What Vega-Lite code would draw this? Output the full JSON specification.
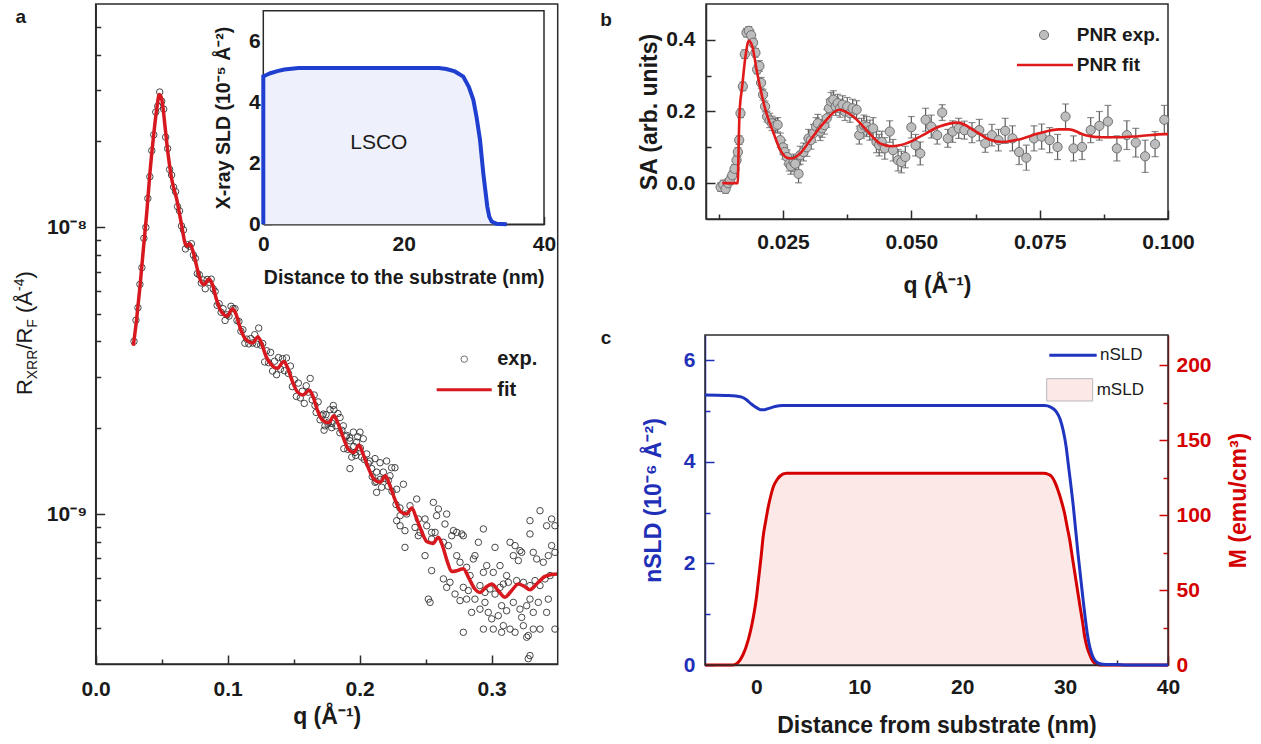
{
  "$schema": "https://vega.github.io/schema/vega-lite/v6.json",
  "width": 1261,
  "height": 744,
  "autosize": {"type": "none"},
  "padding": 0,
  "background": "white",
  "config": {
    "view": {"stroke": null},
    "font": "Liberation Sans",
    "axis": {"grid": false, "zindex": 1, "labelFont": "Liberation Sans", "labelFontSize": 21, "labelFontWeight": "bold", "labelColor": "#1a1a1a", "titleFont": "Liberation Sans", "titleFontSize": 23, "titleFontWeight": "bold", "titleColor": "#1a1a1a", "domainColor": "#2b2b2b", "domainWidth": 1.5, "tickColor": "#2b2b2b", "tickWidth": 1.5, "labelFlush": false, "labelOverlap": false, "labelBound": false},
    "text": {"font": "Liberation Sans"}
  },
  "datasets": {
    "xrr_fit": [
      {"q":0.0285,"r":3.86e-9},{"q":0.031,"r":4.78e-9},{"q":0.0336,"r":6.24e-9},{"q":0.0361,"r":8.38e-9},{"q":0.0387,"r":1.125e-8},{"q":0.0411,"r":1.55e-8},{"q":0.0436,"r":2.03e-8},{"q":0.0462,"r":2.58e-8},{"q":0.0482,"r":2.9e-8},{"q":0.0495,"r":2.85e-8},{"q":0.0505,"r":2.72e-8},{"q":0.0525,"r":2.25e-8},{"q":0.055,"r":1.77e-8},{"q":0.0576,"r":1.47e-8},{"q":0.0614,"r":1.25e-8},{"q":0.0652,"r":1.01e-8},{"q":0.0677,"r":8.8e-9},{"q":0.0695,"r":8.6e-9},{"q":0.0712,"r":8.75e-9},{"q":0.0735,"r":8.3e-9},{"q":0.0765,"r":7.3e-9},{"q":0.079,"r":6.6e-9},{"q":0.082,"r":6.3e-9},{"q":0.0858,"r":6.6e-9},{"q":0.0885,"r":6.3e-9},{"q":0.0915,"r":5.6e-9},{"q":0.0955,"r":5.05e-9},{"q":0.0995,"r":4.9e-9},{"q":0.1038,"r":5.2e-9},{"q":0.1065,"r":4.95e-9},{"q":0.1095,"r":4.45e-9},{"q":0.114,"r":4.05e-9},{"q":0.119,"r":3.95e-9},{"q":0.1228,"r":4.15e-9},{"q":0.1255,"r":3.95e-9},{"q":0.129,"r":3.55e-9},{"q":0.1335,"r":3.3e-9},{"q":0.1375,"r":3.22e-9},{"q":0.1425,"r":3.4e-9},{"q":0.1452,"r":3.25e-9},{"q":0.149,"r":2.9e-9},{"q":0.153,"r":2.66e-9},{"q":0.157,"r":2.6e-9},{"q":0.1618,"r":2.7e-9},{"q":0.1645,"r":2.58e-9},{"q":0.168,"r":2.3e-9},{"q":0.172,"r":2.12e-9},{"q":0.1765,"r":2.08e-9},{"q":0.1805,"r":2.2e-9},{"q":0.1835,"r":2.07e-9},{"q":0.1875,"r":1.85e-9},{"q":0.1915,"r":1.68e-9},{"q":0.1955,"r":1.64e-9},{"q":0.1995,"r":1.74e-9},{"q":0.2025,"r":1.62e-9},{"q":0.2065,"r":1.45e-9},{"q":0.211,"r":1.32e-9},{"q":0.2155,"r":1.29e-9},{"q":0.2195,"r":1.36e-9},{"q":0.2225,"r":1.27e-9},{"q":0.2265,"r":1.13e-9},{"q":0.231,"r":1.02e-9},{"q":0.2355,"r":1.0e-9},{"q":0.2395,"r":1.05e-9},{"q":0.2425,"r":9.8e-10},{"q":0.2465,"r":8.8e-10},{"q":0.251,"r":8.0e-10},{"q":0.2555,"r":7.9e-10},{"q":0.2596,"r":8.3e-10},{"q":0.2625,"r":7.8e-10},{"q":0.2665,"r":6.8e-10},{"q":0.2697,"r":6.3e-10},{"q":0.274,"r":6.35e-10},{"q":0.2785,"r":6.45e-10},{"q":0.2825,"r":6.0e-10},{"q":0.287,"r":5.5e-10},{"q":0.2911,"r":5.33e-10},{"q":0.2955,"r":5.55e-10},{"q":0.3,"r":5.7e-10},{"q":0.305,"r":5.4e-10},{"q":0.3101,"r":5.13e-10},{"q":0.315,"r":5.4e-10},{"q":0.3202,"r":5.7e-10},{"q":0.3245,"r":5.6e-10},{"q":0.329,"r":5.45e-10},{"q":0.334,"r":5.7e-10},{"q":0.34,"r":6.05e-10},{"q":0.345,"r":6.15e-10},{"q":0.35,"r":6.18e-10}
    ],
    "xrr_exp": [
      {"q":0.029,"r":4.0e-9},{"q":0.0305,"r":4.74e-9},{"q":0.032,"r":5.24e-9},{"q":0.0335,"r":6.32e-9},{"q":0.035,"r":7.23e-9},{"q":0.0365,"r":9.15e-9},{"q":0.038,"r":9.98e-9},{"q":0.0395,"r":1.26e-8},{"q":0.041,"r":1.5e-8},{"q":0.0425,"r":1.85e-8},{"q":0.044,"r":2.1e-8},{"q":0.0455,"r":2.52e-8},{"q":0.047,"r":2.64e-8},{"q":0.0485,"r":2.96e-8},{"q":0.05,"r":2.75e-8},{"q":0.0515,"r":2.58e-8},{"q":0.053,"r":2.06e-8},{"q":0.0545,"r":1.88e-8},{"q":0.056,"r":1.59e-8},{"q":0.0575,"r":1.52e-8},{"q":0.059,"r":1.38e-8},{"q":0.0605,"r":1.33e-8},{"q":0.062,"r":1.18e-8},{"q":0.0635,"r":1.14e-8},{"q":0.065,"r":1.01e-8},{"q":0.0665,"r":9.78e-9},{"q":0.068,"r":8.4e-9},{"q":0.0695,"r":8.69e-9},{"q":0.071,"r":8.58e-9},{"q":0.0725,"r":8.76e-9},{"q":0.074,"r":8.0e-9},{"q":0.0755,"r":7.78e-9},{"q":0.077,"r":6.89e-9},{"q":0.0785,"r":6.83e-9},{"q":0.08,"r":6.39e-9},{"q":0.0815,"r":6.55e-9},{"q":0.083,"r":6.1e-9},{"q":0.0845,"r":6.57e-9},{"q":0.086,"r":6.42e-9},{"q":0.0875,"r":6.59e-9},{"q":0.089,"r":6.1e-9},{"q":0.0905,"r":5.97e-9},{"q":0.092,"r":5.34e-9},{"q":0.0935,"r":5.41e-9},{"q":0.095,"r":5.05e-9},{"q":0.0965,"r":5.2e-9},{"q":0.098,"r":4.73e-9},{"q":0.0995,"r":4.95e-9},{"q":0.101,"r":4.9e-9},{"q":0.1025,"r":5.3e-9},{"q":0.104,"r":5.2e-9},{"q":0.1055,"r":5.2e-9},{"q":0.107,"r":4.73e-9},{"q":0.1085,"r":4.69e-9},{"q":0.11,"r":4.34e-9},{"q":0.1115,"r":4.39e-9},{"q":0.113,"r":3.94e-9},{"q":0.1145,"r":4.07e-9},{"q":0.116,"r":3.92e-9},{"q":0.1175,"r":4.09e-9},{"q":0.119,"r":3.95e-9},{"q":0.1205,"r":4.22e-9},{"q":0.122,"r":3.91e-9},{"q":0.1235,"r":4.45e-9},{"q":0.125,"r":3.88e-9},{"q":0.1265,"r":3.93e-9},{"q":0.128,"r":3.39e-9},{"q":0.1295,"r":3.71e-9},{"q":0.131,"r":3.37e-9},{"q":0.1325,"r":3.66e-9},{"q":0.134,"r":3.15e-9},{"q":0.1355,"r":3.41e-9},{"q":0.137,"r":3.06e-9},{"q":0.1385,"r":3.51e-9},{"q":0.14,"r":3.2e-9},{"q":0.1415,"r":3.48e-9},{"q":0.143,"r":3.16e-9},{"q":0.1445,"r":3.5e-9},{"q":0.146,"r":3.09e-9},{"q":0.1475,"r":3.28e-9},{"q":0.149,"r":2.78e-9},{"q":0.1505,"r":2.94e-9},{"q":0.152,"r":2.57e-9},{"q":0.1535,"r":2.86e-9},{"q":0.155,"r":2.54e-9},{"q":0.1565,"r":2.68e-9},{"q":0.158,"r":2.43e-9},{"q":0.1595,"r":2.8e-9},{"q":0.161,"r":2.66e-9},{"q":0.1625,"r":2.97e-9},{"q":0.164,"r":2.5e-9},{"q":0.1655,"r":2.6e-9},{"q":0.167,"r":2.26e-9},{"q":0.1685,"r":2.46e-9},{"q":0.17,"r":2.13e-9},{"q":0.1715,"r":2.2e-9},{"q":0.173,"r":1.96e-9},{"q":0.1745,"r":2.22e-9},{"q":0.176,"r":2.06e-9},{"q":0.1775,"r":2.31e-9},{"q":0.179,"r":2.07e-9},{"q":0.1805,"r":2.31e-9},{"q":0.182,"r":2.03e-9},{"q":0.1835,"r":2.24e-9},{"q":0.185,"r":1.92e-9},{"q":0.1865,"r":1.96e-9},{"q":0.188,"r":1.69e-9},{"q":0.1895,"r":1.86e-9},{"q":0.191,"r":1.68e-9},{"q":0.1925,"r":1.84e-9},{"q":0.194,"r":1.58e-9},{"q":0.1955,"r":1.72e-9},{"q":0.197,"r":1.6e-9},{"q":0.1985,"r":1.86e-9},
      {"q":0.1661,"r":2.39e-9},{"q":0.1724,"r":2.23e-9},{"q":0.1762,"r":2.09e-9},{"q":0.18,"r":2.39e-9},{"q":0.1737,"r":2.03e-9},{"q":0.1788,"r":2.0e-9},{"q":0.1851,"r":2.17e-9},{"q":0.1876,"r":2.03e-9},{"q":0.1901,"r":1.88e-9},{"q":0.1926,"r":1.8e-9},{"q":0.1952,"r":1.93e-9},{"q":0.1977,"r":1.78e-9},{"q":0.2002,"r":1.93e-9},{"q":0.2027,"r":1.83e-9},{"q":0.1926,"r":1.44e-9},{"q":0.1964,"r":1.64e-9},{"q":0.2015,"r":1.58e-9},{"q":0.2053,"r":1.62e-9},{"q":0.2078,"r":1.53e-9},{"q":0.2116,"r":1.56e-9},{"q":0.2154,"r":1.51e-9},{"q":0.2204,"r":1.53e-9},{"q":0.2242,"r":1.45e-9},{"q":0.2091,"r":1.44e-9},{"q":0.2128,"r":1.4e-9},{"q":0.2179,"r":1.4e-9},{"q":0.2229,"r":1.36e-9},{"q":0.2267,"r":1.45e-9},{"q":0.2116,"r":1.29e-9},{"q":0.2128,"r":1.19e-9},{"q":0.2166,"r":1.24e-9},{"q":0.2217,"r":1.31e-9},{"q":0.228,"r":1.22e-9},{"q":0.2331,"r":1.27e-9},
      {"q":0.2005,"r":1.7e-9},{"q":0.2035,"r":1.55e-9},{"q":0.2065,"r":1.5e-9},{"q":0.2095,"r":1.35e-9},{"q":0.2125,"r":1.3e-9},{"q":0.2155,"r":1.32e-9},{"q":0.2185,"r":1.33e-9},{"q":0.2215,"r":1.25e-9},{"q":0.2245,"r":1.2e-9},{"q":0.2275,"r":1.08e-9},{"q":0.2305,"r":1.05e-9},
      {"q":0.2432,"r":1.128e-9},{"q":0.2558,"r":1.098e-9},{"q":0.2596,"r":1.041e-9},{"q":0.2381,"r":1.069e-9},{"q":0.2356,"r":1.0e-9},{"q":0.2306,"r":9.87e-10},{"q":0.2444,"r":9.61e-10},{"q":0.2495,"r":9.61e-10},{"q":0.2583,"r":9.87e-10},{"q":0.2659,"r":1.0e-9},{"q":0.2646,"r":9.23e-10},{"q":0.228,"r":9.48e-10},{"q":0.2306,"r":9.1e-10},{"q":0.2343,"r":8.75e-10},{"q":0.2419,"r":8.98e-10},{"q":0.2457,"r":8.63e-10},{"q":0.2508,"r":9.1e-10},{"q":0.2545,"r":8.63e-10},{"q":0.2571,"r":8.63e-10},{"q":0.271,"r":8.75e-10},{"q":0.2735,"r":8.63e-10},{"q":0.2773,"r":8.52e-10},{"q":0.2785,"r":8.4e-10},{"q":0.2937,"r":8.87e-10},{"q":0.2697,"r":8.4e-10},
      {"q":0.2343,"r":7.65e-10},{"q":0.2444,"r":8.4e-10},{"q":0.2495,"r":7.16e-10},{"q":0.2545,"r":8.18e-10},{"q":0.2634,"r":7.97e-10},{"q":0.2672,"r":7.76e-10},{"q":0.2735,"r":7.16e-10},{"q":0.2861,"r":6.97e-10},{"q":0.2899,"r":7.97e-10},{"q":0.3025,"r":7.65e-10},{"q":0.3139,"r":7.97e-10},{"q":0.3177,"r":7.76e-10},{"q":0.3214,"r":7.45e-10},{"q":0.329,"r":8.52e-10},{"q":0.3366,"r":1.027e-9},{"q":0.329,"r":9.48e-10},{"q":0.3416,"r":9.1e-10},{"q":0.3479,"r":9.1e-10},{"q":0.3454,"r":9.61e-10},
      {"q":0.2545,"r":6.35e-10},{"q":0.2634,"r":5.94e-10},{"q":0.2684,"r":5.78e-10},{"q":0.276,"r":6.79e-10},{"q":0.281,"r":6.52e-10},{"q":0.2836,"r":6.1e-10},{"q":0.2873,"r":7.16e-10},{"q":0.2937,"r":6.26e-10},{"q":0.2962,"r":6.61e-10},{"q":0.3012,"r":6.26e-10},{"q":0.3063,"r":6.61e-10},{"q":0.3113,"r":6.1e-10},{"q":0.3164,"r":7.16e-10},{"q":0.3202,"r":6.88e-10},{"q":0.3227,"r":7.35e-10},{"q":0.3315,"r":7.35e-10},{"q":0.3341,"r":6.97e-10},{"q":0.3391,"r":6.79e-10},{"q":0.3429,"r":7.16e-10},{"q":0.3454,"r":7.76e-10},{"q":0.3479,"r":7.35e-10},
      {"q":0.2659,"r":5.55e-10},{"q":0.2722,"r":5.26e-10},{"q":0.2785,"r":5.55e-10},{"q":0.2823,"r":5.41e-10},{"q":0.281,"r":5.05e-10},{"q":0.2873,"r":5.05e-10},{"q":0.2911,"r":5.63e-10},{"q":0.2949,"r":5.33e-10},{"q":0.2987,"r":5.48e-10},{"q":0.3025,"r":5.26e-10},{"q":0.3063,"r":5.55e-10},{"q":0.3088,"r":5.7e-10},{"q":0.3126,"r":5.78e-10},{"q":0.3189,"r":5.86e-10},{"q":0.324,"r":5.78e-10},{"q":0.329,"r":5.63e-10},{"q":0.3328,"r":5.86e-10},{"q":0.3366,"r":5.63e-10},{"q":0.3404,"r":5.94e-10},{"q":0.3442,"r":6.1e-10},
      {"q":0.252,"r":5.05e-10},{"q":0.2533,"r":4.92e-10},{"q":0.276,"r":4.99e-10},{"q":0.2848,"r":4.54e-10},{"q":0.2911,"r":4.66e-10},{"q":0.2949,"r":4.92e-10},{"q":0.2974,"r":4.54e-10},{"q":0.3,"r":4.31e-10},{"q":0.305,"r":4.42e-10},{"q":0.3075,"r":4.79e-10},{"q":0.3113,"r":4.6e-10},{"q":0.3164,"r":4.92e-10},{"q":0.3214,"r":4.66e-10},{"q":0.3227,"r":4.36e-10},{"q":0.3265,"r":4.79e-10},{"q":0.329,"r":5.05e-10},{"q":0.3315,"r":4.54e-10},{"q":0.3353,"r":4.92e-10},{"q":0.3416,"r":4.54e-10},{"q":0.3429,"r":5.05e-10},{"q":0.3479,"r":3.97e-10},{"q":0.2785,"r":3.87e-10},{"q":0.2937,"r":3.97e-10},{"q":0.3012,"r":3.97e-10},{"q":0.3075,"r":3.87e-10},{"q":0.3088,"r":4.08e-10},{"q":0.3139,"r":3.97e-10},{"q":0.3177,"r":3.87e-10},{"q":0.324,"r":4.08e-10},{"q":0.3265,"r":3.72e-10},{"q":0.3315,"r":3.97e-10},{"q":0.3277,"r":3.77e-10},{"q":0.3366,"r":3.97e-10},{"q":0.329,"r":3.21e-10},{"q":0.3277,"r":3.13e-10}
    ],
    "inset": [
      {"d":0,"sld":0},{"d":0,"sld":4.85},{"d":0.5,"sld":4.9},{"d":1,"sld":4.95},{"d":2,"sld":5.02},{"d":3,"sld":5.07},{"d":4,"sld":5.1},{"d":5,"sld":5.12},{"d":10,"sld":5.12},{"d":20,"sld":5.12},{"d":25,"sld":5.12},{"d":26.1,"sld":5.09},{"d":27.3,"sld":5.01},{"d":28.5,"sld":4.84},{"d":29.3,"sld":4.5},{"d":29.93,"sld":4.08},{"d":30.4,"sld":3.5},{"d":30.88,"sld":2.77},{"d":31.35,"sld":1.67},{"d":31.92,"sld":0.58},{"d":32.2,"sld":0.25},{"d":32.54,"sld":0.09},{"d":33.2,"sld":0.02},{"d":34.7,"sld":0}
    ],
    "pnr_exp": [
      {"q":0.01285,"sa":-0.011,"e":0.012},{"q":0.01337,"sa":-0.004,"e":0.012},{"q":0.01382,"sa":-0.016,"e":0.012},{"q":0.01427,"sa":0.0,"e":0.012},{"q":0.01466,"sa":0.008,"e":0.012},{"q":0.01511,"sa":0.022,"e":0.012},{"q":0.01556,"sa":0.04,"e":0.012},{"q":0.01595,"sa":0.064,"e":0.012},{"q":0.01621,"sa":0.087,"e":0.012},{"q":0.01647,"sa":0.12,"e":0.012},{"q":0.01672,"sa":0.195,"e":0.012},{"q":0.01718,"sa":0.27,"e":0.012},{"q":0.01756,"sa":0.36,"e":0.012},{"q":0.01789,"sa":0.42,"e":0.012},{"q":0.01834,"sa":0.425,"e":0.012},{"q":0.01879,"sa":0.413,"e":0.012},{"q":0.01918,"sa":0.392,"e":0.012},{"q":0.01963,"sa":0.364,"e":0.012},{"q":0.01996,"sa":0.317,"e":0.012},{"q":0.02041,"sa":0.327,"e":0.015},{"q":0.02073,"sa":0.28,"e":0.015},{"q":0.02112,"sa":0.247,"e":0.015},{"q":0.02151,"sa":0.214,"e":0.015},{"q":0.0219,"sa":0.186,"e":0.015},{"q":0.02241,"sa":0.175,"e":0.02},{"q":0.02286,"sa":0.167,"e":0.02},{"q":0.02351,"sa":0.16,"e":0.02},{"q":0.02396,"sa":0.163,"e":0.02},{"q":0.02448,"sa":0.12,"e":0.02},{"q":0.025,"sa":0.1,"e":0.02},{"q":0.02532,"sa":0.087,"e":0.02},{"q":0.02577,"sa":0.073,"e":0.02},{"q":0.02622,"sa":0.054,"e":0.02},{"q":0.02654,"sa":0.047,"e":0.022},{"q":0.02706,"sa":0.059,"e":0.022},{"q":0.02738,"sa":0.054,"e":0.022},{"q":0.02803,"sa":0.026,"e":0.025},{"q":0.02835,"sa":0.078,"e":0.025},{"q":0.029,"sa":0.087,"e":0.025},{"q":0.02965,"sa":0.1,"e":0.025},{"q":0.02997,"sa":0.125,"e":0.025},{"q":0.03042,"sa":0.12,"e":0.025},{"q":0.03094,"sa":0.139,"e":0.025},{"q":0.03145,"sa":0.158,"e":0.025},{"q":0.03178,"sa":0.167,"e":0.025},{"q":0.03223,"sa":0.144,"e":0.025},{"q":0.03262,"sa":0.153,"e":0.025},{"q":0.03307,"sa":0.162,"e":0.025},{"q":0.03352,"sa":0.181,"e":0.025},{"q":0.03397,"sa":0.209,"e":0.025},{"q":0.03436,"sa":0.228,"e":0.025},{"q":0.03481,"sa":0.233,"e":0.025},{"q":0.03527,"sa":0.214,"e":0.025},{"q":0.03565,"sa":0.223,"e":0.025},{"q":0.0361,"sa":0.209,"e":0.025},{"q":0.03662,"sa":0.219,"e":0.025},{"q":0.03707,"sa":0.2,"e":0.025},{"q":0.03753,"sa":0.214,"e":0.025},{"q":0.03804,"sa":0.195,"e":0.025},{"q":0.03856,"sa":0.209,"e":0.025},{"q":0.03934,"sa":0.205,"e":0.025},{"q":0.03985,"sa":0.134,"e":0.025},{"q":0.0403,"sa":0.153,"e":0.028},{"q":0.04076,"sa":0.162,"e":0.028},{"q":0.04127,"sa":0.158,"e":0.028},{"q":0.04192,"sa":0.148,"e":0.028},{"q":0.04256,"sa":0.153,"e":0.03},{"q":0.04321,"sa":0.115,"e":0.03},{"q":0.04373,"sa":0.106,"e":0.03},{"q":0.04424,"sa":0.115,"e":0.03},{"q":0.04483,"sa":0.097,"e":0.03},{"q":0.04579,"sa":0.144,"e":0.03},{"q":0.04644,"sa":0.092,"e":0.03},{"q":0.04741,"sa":0.064,"e":0.03},{"q":0.04806,"sa":0.059,"e":0.03},{"q":0.04883,"sa":0.073,"e":0.03},
      {"q":0.05,"sa":0.156,"e":0.03},{"q":0.05083,"sa":0.106,"e":0.03},{"q":0.05174,"sa":0.083,"e":0.032},{"q":0.05278,"sa":0.177,"e":0.032},{"q":0.05388,"sa":0.158,"e":0.032},{"q":0.05504,"sa":0.134,"e":0.025},{"q":0.05601,"sa":0.197,"e":0.022},{"q":0.0571,"sa":0.125,"e":0.025},{"q":0.05806,"sa":0.144,"e":0.03},{"q":0.05923,"sa":0.153,"e":0.028},{"q":0.06033,"sa":0.148,"e":0.025},{"q":0.06182,"sa":0.141,"e":0.028},{"q":0.06324,"sa":0.148,"e":0.03},{"q":0.0644,"sa":0.111,"e":0.025},{"q":0.0657,"sa":0.134,"e":0.03},{"q":0.06698,"sa":0.12,"e":0.03},{"q":0.06828,"sa":0.146,"e":0.035},{"q":0.0697,"sa":0.125,"e":0.035},{"q":0.07099,"sa":0.087,"e":0.035},{"q":0.0724,"sa":0.071,"e":0.035},{"q":0.0739,"sa":0.125,"e":0.035},{"q":0.07539,"sa":0.13,"e":0.035},{"q":0.07694,"sa":0.12,"e":0.035},{"q":0.07849,"sa":0.101,"e":0.035},{"q":0.08004,"sa":0.186,"e":0.035},{"q":0.08159,"sa":0.097,"e":0.035},{"q":0.08326,"sa":0.101,"e":0.035},{"q":0.08494,"sa":0.148,"e":0.035},{"q":0.08663,"sa":0.16,"e":0.04},{"q":0.0883,"sa":0.172,"e":0.045},{"q":0.09004,"sa":0.097,"e":0.035},{"q":0.09198,"sa":0.134,"e":0.04},{"q":0.09372,"sa":0.113,"e":0.04},{"q":0.09554,"sa":0.075,"e":0.045},{"q":0.09748,"sa":0.109,"e":0.035},{"q":0.09928,"sa":0.177,"e":0.04}
    ],
    "pnr_fit": [
      {"q":0.01318,"sa":0},{"q":0.0162,"sa":0},{"q":0.01628,"sa":0.05},{"q":0.01653,"sa":0.195},{"q":0.01705,"sa":0.27},{"q":0.0177,"sa":0.355},{"q":0.01833,"sa":0.397},{"q":0.01899,"sa":0.383},{"q":0.01996,"sa":0.308},{"q":0.02157,"sa":0.205},{"q":0.02318,"sa":0.139},{"q":0.02448,"sa":0.092},{"q":0.02578,"sa":0.071},{"q":0.02674,"sa":0.069},{"q":0.02835,"sa":0.083},{"q":0.03029,"sa":0.12},{"q":0.03287,"sa":0.167},{"q":0.03591,"sa":0.205},{"q":0.03868,"sa":0.186},{"q":0.04128,"sa":0.148},{"q":0.04386,"sa":0.111},{"q":0.04612,"sa":0.103},{"q":0.04903,"sa":0.111},{"q":0.05225,"sa":0.134},{"q":0.05548,"sa":0.158},{"q":0.05903,"sa":0.169},{"q":0.0626,"sa":0.144},{"q":0.06518,"sa":0.122},{"q":0.06776,"sa":0.115},{"q":0.07099,"sa":0.122},{"q":0.07486,"sa":0.139},{"q":0.07874,"sa":0.15},{"q":0.08068,"sa":0.15},{"q":0.08391,"sa":0.134},{"q":0.08714,"sa":0.128},{"q":0.09037,"sa":0.128},{"q":0.09424,"sa":0.131},{"q":0.09942,"sa":0.137},{"q":0.1,"sa":0.137}
    ],
    "nsld": [
      {"d":-5,"v":5.32},{"d":-3,"v":5.31},{"d":-2,"v":5.3},{"d":-1.5,"v":5.28},{"d":-1,"v":5.23},{"d":-0.5,"v":5.14},{"d":0,"v":5.07},{"d":0.4,"v":5.03},{"d":0.8,"v":5.03},{"d":1.3,"v":5.06},{"d":1.8,"v":5.09},{"d":2.5,"v":5.11},{"d":5,"v":5.11},{"d":10,"v":5.11},{"d":20,"v":5.11},{"d":28,"v":5.11},{"d":28.6,"v":5.08},{"d":29.1,"v":5.0},{"d":29.5,"v":4.85},{"d":29.8,"v":4.63},{"d":30.1,"v":4.3},{"d":30.3,"v":3.97},{"d":30.8,"v":3.12},{"d":31.25,"v":2.2},{"d":31.75,"v":1.28},{"d":32.2,"v":0.56},{"d":32.7,"v":0.16},{"d":33.3,"v":0.03},{"d":34,"v":0.01},{"d":35,"v":0.01},{"d":36,"v":0},{"d":40,"v":0}
    ],
    "msld": [
      {"d":-5,"m":0},{"d":-2.3,"m":0},{"d":-1.9,"m":1},{"d":-1.6,"m":3.3},{"d":-1.3,"m":7},{"d":-1.0,"m":12.2},{"d":-0.6,"m":22},{"d":-0.3,"m":32},{"d":0,"m":45},{"d":0.2,"m":57},{"d":0.45,"m":72},{"d":0.65,"m":85.5},{"d":0.9,"m":96},{"d":1.15,"m":105.5},{"d":1.4,"m":113},{"d":1.65,"m":119},{"d":2.0,"m":123.5},{"d":2.3,"m":126},{"d":2.9,"m":127.8},{"d":10,"m":127.8},{"d":20,"m":127.8},{"d":27.9,"m":127.8},{"d":28.4,"m":127},{"d":28.7,"m":125.6},{"d":29.0,"m":122},{"d":29.3,"m":116.7},{"d":29.65,"m":109},{"d":29.95,"m":101},{"d":30.2,"m":92},{"d":30.45,"m":83.3},{"d":30.7,"m":72},{"d":30.95,"m":61},{"d":31.2,"m":50},{"d":31.45,"m":39},{"d":31.7,"m":28.5},{"d":31.9,"m":19},{"d":32.15,"m":11.5},{"d":32.4,"m":6.7},{"d":32.65,"m":3},{"d":32.9,"m":1.1},{"d":33.4,"m":0},{"d":40,"m":0}
    ]
  },
  "layer": [
    {
      "encoding": {
        "x": {"type": "quantitative", "scale": {"domain": [0, 0.35], "range": [95.7, 557.7], "nice": false, "zero": false}, "axis": {"orient": "bottom", "offset": -80, "values": [0, 0.1, 0.2, 0.3], "format": ".1f", "tickSize": -9, "labelPadding": 23, "title": "q (Å⁻¹)", "titlePadding": 6}},
        "y": {"type": "quantitative", "scale": {"type": "log", "domain": [3e-10, 6e-8], "range": [664, 4], "nice": false}, "axis": {"orient": "left", "offset": -95.7, "values": [1e-9, 1e-8], "labelExpr": "datum.value < 5e-9 ? '10⁻⁹' : '10⁻⁸'", "tickSize": -9, "labelPadding": 18, "title": null}}
      },
      "layer": [
        {"data": {"name": "xrr_exp"}, "mark": {"type": "point", "shape": "circle", "filled": false, "size": 42, "stroke": "#333333", "strokeWidth": 1, "opacity": 0.9}, "encoding": {"x": {"field": "q"}, "y": {"field": "r"}}},
        {"data": {"name": "xrr_fit"}, "mark": {"type": "line", "color": "#d7191f", "strokeWidth": 3.5, "interpolate": "monotone"}, "encoding": {"x": {"field": "q"}, "y": {"field": "r"}}},
        {"data": {"values": [{}]}, "mark": {"type": "rect", "fill": "white", "fillOpacity": 0, "stroke": "#2b2b2b", "strokeWidth": 1.5}, "encoding": {"x": {"datum": 0}, "x2": {"datum": 0.35}, "y": {"datum": 3e-10}, "y2": {"datum": 6e-8}}},
        {"data": {"values": [{}]}, "mark": {"type": "point", "shape": "circle", "filled": false, "size": 42, "stroke": "#333333", "strokeWidth": 1}, "encoding": {"x": {"datum": 0.2792}, "y": {"datum": 3.467e-9}}},
        {"data": {"values": [{}]}, "mark": {"type": "text", "text": "exp.", "align": "left", "baseline": "middle", "fontSize": 20, "fontWeight": "bold", "color": "#1a1a1a"}, "encoding": {"x": {"datum": 0.3042}, "y": {"datum": 3.467e-9}}},
        {"data": {"values": [{}]}, "mark": {"type": "rule", "color": "#d7191f", "strokeWidth": 3}, "encoding": {"x": {"datum": 0.2583}, "x2": {"datum": 0.3}, "y": {"datum": 2.71e-9}}},
        {"data": {"values": [{}]}, "mark": {"type": "text", "text": "fit", "align": "left", "baseline": "middle", "fontSize": 20, "fontWeight": "bold", "color": "#1a1a1a"}, "encoding": {"x": {"datum": 0.3042}, "y": {"datum": 2.71e-9}}},
        {"data": {"values": [{}]}, "mark": {"type": "text", "text": "a", "align": "center", "baseline": "middle", "fontSize": 19, "fontWeight": "bold", "color": "#1a1a1a"}, "encoding": {"x": {"datum": -0.0567}, "y": {"datum": 5.392e-8}}},
        {"data": {"values": [{}]}, "mark": {"type": "text", "text": "R", "angle": 270, "align": "left", "baseline": "alphabetic", "fontSize": 22, "color": "#1a1a1a"}, "encoding": {"x": {"datum": -0.04826}, "y": {"datum": 2.598e-9}}},
        {"data": {"values": [{}]}, "mark": {"type": "text", "text": "XRR", "angle": 270, "align": "left", "baseline": "alphabetic", "fontSize": 14, "color": "#1a1a1a"}, "encoding": {"x": {"datum": -0.04447}, "y": {"datum": 2.951e-9}}},
        {"data": {"values": [{}]}, "mark": {"type": "text", "text": "/R", "angle": 270, "align": "left", "baseline": "alphabetic", "fontSize": 22, "color": "#1a1a1a"}, "encoding": {"x": {"datum": -0.04826}, "y": {"datum": 3.743e-9}}},
        {"data": {"values": [{}]}, "mark": {"type": "text", "text": "F", "angle": 270, "align": "left", "baseline": "alphabetic", "fontSize": 14, "color": "#1a1a1a"}, "encoding": {"x": {"datum": -0.04447}, "y": {"datum": 4.465e-9}}},
        {"data": {"values": [{}]}, "mark": {"type": "text", "text": "(Å", "angle": 270, "align": "left", "baseline": "alphabetic", "fontSize": 22, "color": "#1a1a1a"}, "encoding": {"x": {"datum": -0.04826}, "y": {"datum": 5.023e-9}}},
        {"data": {"values": [{}]}, "mark": {"type": "text", "text": "-4", "angle": 270, "align": "left", "baseline": "alphabetic", "fontSize": 14, "color": "#1a1a1a"}, "encoding": {"x": {"datum": -0.05432}, "y": {"datum": 5.992e-9}}},
        {"data": {"values": [{}]}, "mark": {"type": "text", "text": ")", "angle": 270, "align": "left", "baseline": "alphabetic", "fontSize": 22, "color": "#1a1a1a"}, "encoding": {"x": {"datum": -0.04826}, "y": {"datum": 6.62e-9}}}
      ]
    },
    {
      "data": {"values": [{}]},
      "mark": {"type": "point", "opacity": 0},
      "encoding": {
        "x": {"datum": 0.1, "type": "quantitative", "scale": {"domain": [0, 0.35], "range": [95.7, 557.7], "nice": false, "zero": false}, "axis": {"orient": "bottom", "offset": -80, "values": [0.05, 0.15, 0.25], "tickSize": -5, "labels": false, "domain": false, "title": null}},
        "y": {"datum": 1e-9, "type": "quantitative", "scale": {"type": "log", "domain": [3e-10, 6e-8], "range": [664, 4], "nice": false}, "axis": {"orient": "left", "offset": -95.7, "values": [4e-10, 5e-10, 6e-10, 7e-10, 8e-10, 9e-10, 2e-9, 3e-9, 4e-9, 5e-9, 6e-9, 7e-9, 8e-9, 9e-9, 2e-8, 3e-8, 4e-8, 5e-8], "tickSize": -5, "labels": false, "domain": false, "title": null}}
      }
    },
    {
      "encoding": {
        "x": {"type": "quantitative", "scale": {"domain": [0, 40], "range": [263.3, 544], "nice": false, "zero": false}, "axis": {"orient": "bottom", "offset": -519.7, "values": [0, 20, 40], "tickSize": -8, "labelPadding": 17, "title": "Distance to the substrate (nm)", "titleFontSize": 19.5, "titlePadding": 14}},
        "y": {"type": "quantitative", "scale": {"domain": [0, 7], "range": [224.3, 10.7], "nice": false, "zero": false}, "axis": {"orient": "left", "offset": -263.3, "values": [0, 2, 4, 6], "tickSize": -8, "labelPadding": 11, "title": "X-ray SLD (10⁻⁵ Å⁻²)", "titleFontSize": 19.5, "titlePadding": 15}}
      },
      "layer": [
        {"data": {"values": [{}]}, "mark": {"type": "rect", "fill": "white", "stroke": "#2b2b2b", "strokeWidth": 1.5}, "encoding": {"x": {"datum": 0}, "x2": {"datum": 40}, "y": {"datum": 0}, "y2": {"datum": 7}}},
        {"data": {"name": "inset"}, "mark": {"type": "area", "color": "#eef0fb", "opacity": 1, "line": {"color": "#1f3fd0", "strokeWidth": 4}}, "encoding": {"x": {"field": "d"}, "y": {"field": "sld"}}},
        {"data": {"values": [{}]}, "mark": {"type": "text", "text": "LSCO", "align": "center", "baseline": "middle", "fontSize": 21, "color": "#1a1a1a"}, "encoding": {"x": {"datum": 16.46}, "y": {"datum": 2.65}}}
      ]
    },
    {
      "data": {"values": [{}]},
      "mark": {"type": "point", "opacity": 0},
      "encoding": {
        "x": {"datum": 10, "type": "quantitative", "scale": {"domain": [0, 40], "range": [263.3, 544], "nice": false, "zero": false}, "axis": {"orient": "bottom", "offset": -519.7, "values": [10, 30], "tickSize": -5, "labels": false, "domain": false, "title": null}},
        "y": {"datum": 1, "type": "quantitative", "scale": {"domain": [0, 7], "range": [224.3, 10.7], "nice": false, "zero": false}, "axis": {"orient": "left", "offset": -263.3, "values": [1, 3, 5], "tickSize": -5, "labels": false, "domain": false, "title": null}}
      }
    },
    {
      "encoding": {
        "x": {"type": "quantitative", "scale": {"domain": [0.01, 0.1], "range": [706, 1168], "nice": false, "zero": false}, "axis": {"orient": "bottom", "offset": -525, "values": [0.025, 0.05, 0.075, 0.1], "format": ".3f", "tickSize": -9, "labelPadding": 21, "title": "q (Å⁻¹)", "titlePadding": 22}},
        "y": {"type": "quantitative", "scale": {"domain": [-0.1, 0.5], "range": [219, 4], "nice": false, "zero": false}, "axis": {"orient": "left", "offset": -706, "values": [0, 0.2, 0.4], "format": ".1f", "tickSize": -9, "labelPadding": 20, "title": "SA (arb. units)", "titlePadding": 4}}
      },
      "layer": [
        {"data": {"values": [{}]}, "mark": {"type": "rect", "fill": "white", "fillOpacity": 0, "stroke": "#2b2b2b", "strokeWidth": 1.5}, "encoding": {"x": {"datum": 0.01}, "x2": {"datum": 0.1}, "y": {"datum": -0.1}, "y2": {"datum": 0.5}}},
        {"data": {"name": "pnr_exp"}, "mark": {"type": "errorbar", "ticks": {"size": 7, "color": "#5e5e5e", "thickness": 1.2}, "rule": {"color": "#5e5e5e", "strokeWidth": 1.2}}, "encoding": {"x": {"field": "q"}, "y": {"field": "sa"}, "yError": {"field": "e"}}},
        {"data": {"name": "pnr_exp"}, "mark": {"type": "point", "shape": "circle", "filled": true, "size": 85, "fill": "#bdbdbd", "stroke": "#707070", "strokeWidth": 1, "opacity": 1}, "encoding": {"x": {"field": "q"}, "y": {"field": "sa"}}},
        {"data": {"name": "pnr_fit"}, "mark": {"type": "line", "color": "#e01a1a", "strokeWidth": 2.6, "interpolate": "monotone"}, "encoding": {"x": {"field": "q"}, "y": {"field": "sa"}}},
        {"data": {"values": [{}]}, "mark": {"type": "point", "shape": "circle", "filled": true, "size": 85, "fill": "#bdbdbd", "stroke": "#707070", "strokeWidth": 1, "opacity": 1}, "encoding": {"x": {"datum": 0.07585}, "y": {"datum": 0.4135}}},
        {"data": {"values": [{}]}, "mark": {"type": "text", "text": "PNR exp.", "align": "left", "baseline": "middle", "fontSize": 19, "fontWeight": "bold", "color": "#1a1a1a"}, "encoding": {"x": {"datum": 0.08222}, "y": {"datum": 0.4135}}},
        {"data": {"values": [{}]}, "mark": {"type": "rule", "color": "#e01a1a", "strokeWidth": 2.6}, "encoding": {"x": {"datum": 0.07058}, "x2": {"datum": 0.0815}, "y": {"datum": 0.3298}}},
        {"data": {"values": [{}]}, "mark": {"type": "text", "text": "PNR fit", "align": "left", "baseline": "middle", "fontSize": 19, "fontWeight": "bold", "color": "#1a1a1a"}, "encoding": {"x": {"datum": 0.08222}, "y": {"datum": 0.3298}}},
        {"data": {"values": [{}]}, "mark": {"type": "text", "text": "b", "align": "center", "baseline": "middle", "fontSize": 19, "fontWeight": "bold", "color": "#1a1a1a"}, "encoding": {"x": {"datum": -0.00948}, "y": {"datum": 0.4554}}}
      ]
    },
    {
      "data": {"values": [{}]},
      "mark": {"type": "point", "opacity": 0},
      "encoding": {
        "x": {"datum": 0.05, "type": "quantitative", "scale": {"domain": [0.01, 0.1], "range": [706, 1168], "nice": false, "zero": false}, "axis": {"orient": "bottom", "offset": -525, "values": [0.0125, 0.0375, 0.0625, 0.0875], "tickSize": -5, "labels": false, "domain": false, "title": null}},
        "y": {"datum": 0.1, "type": "quantitative", "scale": {"domain": [-0.1, 0.5], "range": [219, 4], "nice": false, "zero": false}, "axis": {"orient": "left", "offset": -706, "values": [0.1, 0.3], "tickSize": -5, "labels": false, "domain": false, "title": null}}
      }
    },
    {
      "encoding": {
        "x": {"type": "quantitative", "scale": {"domain": [-5, 40], "range": [705, 1168], "nice": false, "zero": false}, "axis": null},
        "y": {"type": "quantitative", "scale": {"domain": [0, 220], "range": [665, 335], "nice": false, "zero": false}, "axis": {"orient": "right", "offset": -93, "values": [0, 50, 100, 150, 200], "tickSize": -9, "labelPadding": 17, "title": "M (emu/cm³)", "titleAngle": 270, "titleBaseline": "top", "titlePadding": 16, "labelColor": "#d40000", "tickColor": "#d40000", "domainColor": "#d40000", "titleColor": "#d40000"}}
      },
      "layer": [
        {"data": {"name": "msld"}, "mark": {"type": "area", "color": "#fde8e8", "opacity": 1, "interpolate": "monotone", "line": {"color": "#d40000", "strokeWidth": 3}}, "encoding": {"x": {"field": "d"}, "y": {"field": "m"}}}
      ]
    },
    {
      "data": {"values": [{}]},
      "mark": {"type": "point", "opacity": 0},
      "encoding": {
        "x": {"datum": 10, "type": "quantitative", "scale": {"domain": [-5, 40], "range": [705, 1168], "nice": false, "zero": false}, "axis": null},
        "y": {"datum": 25, "type": "quantitative", "scale": {"domain": [0, 220], "range": [665, 335], "nice": false, "zero": false}, "axis": {"orient": "right", "offset": -93, "values": [25, 75, 125, 175], "tickSize": -5, "labels": false, "domain": false, "title": null, "tickColor": "#d40000"}}
      }
    },
    {
      "encoding": {
        "x": {"type": "quantitative", "scale": {"domain": [-5, 40], "range": [705, 1168], "nice": false, "zero": false}, "axis": {"orient": "bottom", "offset": -79, "values": [0, 10, 20, 30, 40], "tickSize": -9, "labelPadding": 20, "title": "Distance from substrate (nm)", "titlePadding": 17}},
        "y": {"type": "quantitative", "scale": {"domain": [0, 6.5], "range": [665, 335], "nice": false, "zero": false}, "axis": {"orient": "left", "offset": -705, "values": [0, 2, 4, 6], "tickSize": -9, "labelPadding": 19, "title": "nSLD (10⁻⁶ Å⁻²)", "titlePadding": 18, "labelColor": "#1f2fb8", "titleColor": "#1f2fb8", "domainColor": "#1f2fb8", "tickColor": "#1f2fb8"}}
      },
      "layer": [
        {"data": {"values": [{}]}, "mark": {"type": "rect", "fill": "white", "fillOpacity": 0, "stroke": "#2b2b2b", "strokeWidth": 1.5}, "encoding": {"x": {"datum": -5}, "x2": {"datum": 40}, "y": {"datum": 0}, "y2": {"datum": 6.5}}},
        {"data": {"name": "nsld"}, "mark": {"type": "line", "color": "#1f35c0", "strokeWidth": 3, "interpolate": "monotone"}, "encoding": {"x": {"field": "d"}, "y": {"field": "v"}}},
        {"data": {"values": [{}]}, "mark": {"type": "rule", "color": "#1f35c0", "strokeWidth": 3}, "encoding": {"x": {"datum": 28.46}, "x2": {"datum": 33.07}, "y": {"datum": 6.1}}},
        {"data": {"values": [{}]}, "mark": {"type": "text", "text": "nSLD", "align": "left", "baseline": "middle", "fontSize": 17, "color": "#1a1a1a"}, "encoding": {"x": {"datum": 33.39}, "y": {"datum": 6.1}}},
        {"data": {"values": [{}]}, "mark": {"type": "rect", "fill": "#fde8e8", "stroke": "#b8b8b8", "strokeWidth": 1}, "encoding": {"x": {"datum": 28.21}, "x2": {"datum": 32.68}, "y": {"datum": 5.2}, "y2": {"datum": 5.64}}},
        {"data": {"values": [{}]}, "mark": {"type": "text", "text": "mSLD", "align": "left", "baseline": "middle", "fontSize": 17, "color": "#1a1a1a"}, "encoding": {"x": {"datum": 33.07}, "y": {"datum": 5.41}}},
        {"data": {"values": [{}]}, "mark": {"type": "text", "text": "c", "align": "center", "baseline": "middle", "fontSize": 19, "fontWeight": "bold", "color": "#1a1a1a"}, "encoding": {"x": {"datum": -14.62}, "y": {"datum": 6.44}}}
      ]
    },
    {
      "data": {"values": [{}]},
      "mark": {"type": "point", "opacity": 0},
      "encoding": {
        "x": {"datum": 10, "type": "quantitative", "scale": {"domain": [-5, 40], "range": [705, 1168], "nice": false, "zero": false}, "axis": {"orient": "bottom", "offset": -79, "values": [5, 15, 25, 35], "tickSize": -5, "labels": false, "domain": false, "title": null}},
        "y": {"datum": 1, "type": "quantitative", "scale": {"domain": [0, 6.5], "range": [665, 335], "nice": false, "zero": false}, "axis": {"orient": "left", "offset": -705, "values": [1, 3, 5], "tickSize": -5, "labels": false, "domain": false, "title": null, "tickColor": "#1f2fb8"}}
      }
    }
  ],
  "resolve": {"scale": {"x": "independent", "y": "independent"}, "axis": {"x": "independent", "y": "independent"}}
}
